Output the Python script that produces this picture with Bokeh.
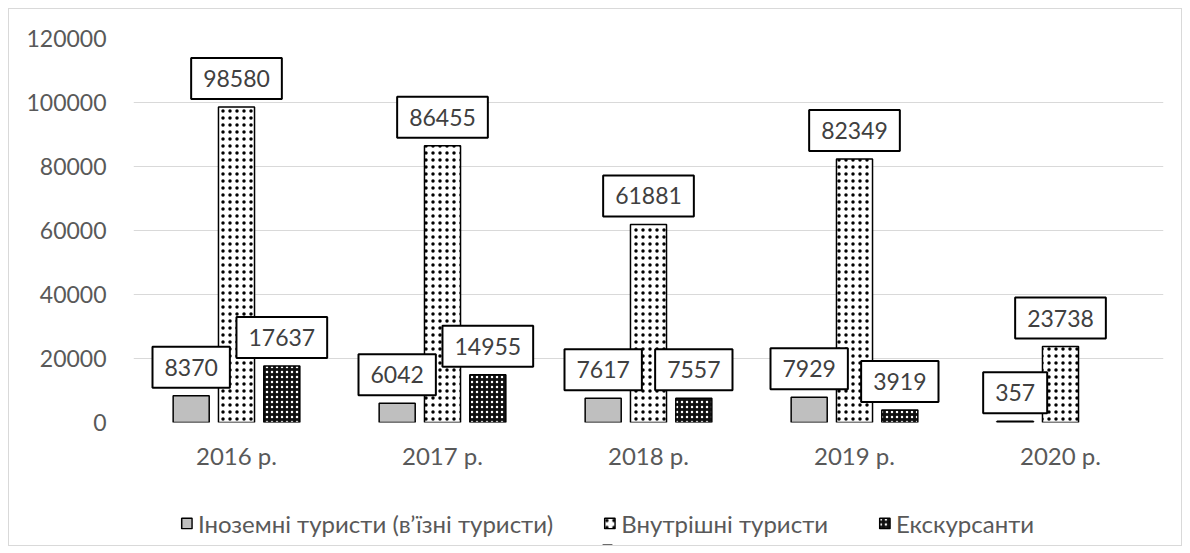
from bokeh.plotting import figure
from bokeh.layouts import column
from bokeh.models import ColumnDataSource, Legend, LegendItem, FixedTicker, Range1d
from bokeh.core.properties import value
from bokeh.transform import dodge
from bokeh.embed import file_html
from bokeh.resources import INLINE

years = ["2016 р.", "2017 р.", "2018 р.", "2019 р.", "2020 р."]
foreign = [8370, 6042, 7617, 7929, 357]
domestic = [98580, 86455, 61881, 82349, 23738]
excursion = [17637, 14955, 7557, 3919, None]
series_names = ["Іноземні туристи (в’їзні туристи)", "Внутрішні туристи", "Екскурсанти"]
y_ticks = [0, 20000, 40000, 60000, 80000, 100000, 120000]

FONT = "Lato"

p = figure(x_range=years, y_range=Range1d(0, 120000), frame_width=1030, frame_height=384,
           output_backend="svg", toolbar_location=None,
           min_border_left=124, min_border_right=16, min_border_top=29, min_border_bottom=60)
p.outline_line_color = None
p.xgrid.grid_line_color = None
p.ygrid.grid_line_color = "#d9d9d9"
p.ygrid.grid_line_width = 1
p.yaxis.ticker = FixedTicker(ticks=y_ticks)
for ax in (p.xaxis, p.yaxis):
    ax.axis_line_color = None
    ax.major_tick_line_color = None
    ax.minor_tick_line_color = None
    ax.major_label_text_font = FONT
    ax.major_label_text_color = "#595959"
p.yaxis.major_label_text_font_size = "23px"
p.xaxis.major_label_text_font_size = "24px"
p.yaxis.major_label_standoff = 21
p.xaxis.major_label_standoff = 12
p.yaxis.formatter.use_scientific = False

def make_src(vals):
    xs = [y for y, v in zip(years, vals) if v is not None]
    vs = [v for v in vals if v is not None]
    return ColumnDataSource(dict(x=xs, top=vs, label=[str(v) for v in vs]))

offsets = [-0.22, 0.0, 0.22]
W = 0.175
srcs = [make_src(foreign), make_src(domestic), make_src(excursion)]
styles = [
    dict(fill_color="#bfbfbf", line_color="black", line_width=1.5),
    dict(fill_color="white", line_color="black", line_width=1.5,
         hatch_pattern="dot", hatch_color="black", hatch_scale=7, hatch_weight=1.5),
    dict(fill_color="#111111", line_color="black", line_width=1.5,
         hatch_pattern="dot", hatch_color="white", hatch_scale=5, hatch_weight=1.5),
]
for src, off, st in zip(srcs, offsets, styles):
    p.vbar(x=dodge("x", off, range=p.x_range), top="top", width=W, source=src, **st)
for src, off in zip(srcs, offsets):
    p.text(x=dodge("x", off, range=p.x_range), y="top", text="label", source=src,
           text_align="center", text_baseline="bottom", y_offset=-8,
           text_font=value(FONT), text_font_size="23px", text_color="#404040",
           background_fill_color="white", border_line_color="black",
           border_line_width=2, padding=12)

# legend strip below the chart (proxy bars lie below its visible range)
p2 = figure(width=1172, height=63, output_backend="svg", toolbar_location=None,
            x_axis_type=None, y_axis_type=None,
            x_range=Range1d(0, 1), y_range=Range1d(0, 1),
            min_border_left=0, min_border_right=100, min_border_top=19, min_border_bottom=0)
p2.outline_line_color = None
leg_renderers = []
for st in styles:
    r = p2.vbar(x=[0.5], top=[-40], bottom=[-50], width=0.01, **st)
    leg_renderers.append(r)
legend = Legend(items=[LegendItem(label=n, renderers=[r]) for n, r in zip(series_names, leg_renderers)],
                orientation="horizontal", location="center", padding=0, margin=0,
                label_text_font=FONT, label_text_font_size="24px", label_text_color="#595959",
                glyph_width=13, glyph_height=13, spacing=50, label_standoff=5,
                border_line_color=None, background_fill_alpha=0)
p2.add_layout(legend)

layout = column(p, p2, spacing=0, styles={"border": "1px solid #d9d9d9", "margin": "8px"})

open("out.html", "w").write(file_html(layout, INLINE))
